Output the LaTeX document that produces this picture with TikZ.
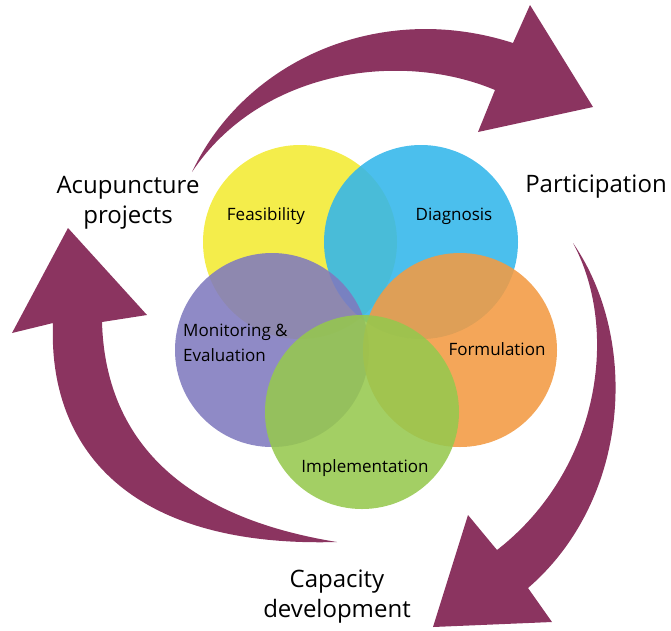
\documentclass[tikz,border=0pt]{standalone}
\usepackage{fontspec}
\setmainfont{Open Sans}

\definecolor{cycleArrow}{RGB}{139,52,96}
\definecolor{feasYellow}{RGB}{243,235,50}
\definecolor{diagBlue}{RGB}{50,182,235}
\definecolor{formOrange}{RGB}{242,154,66}
\definecolor{monPurple}{RGB}{128,122,190}
\definecolor{implGreen}{RGB}{150,200,78}

\begin{document}
\begin{tikzpicture}[x=1pt, y=-1pt,
    petal/.style={circle, minimum size=194pt, inner sep=0pt, fill opacity=0.88},
    stage/.style={inner sep=0pt, font=\fontsize{17}{25}\selectfont, text=black},
    outer/.style={inner sep=0pt, align=center, font=\fontsize{24}{30}\selectfont, text=black}]
  \useasboundingbox (0,0) rectangle (671,630);

  \node [petal, fill=feasYellow] (feas) at (300,242) {};
  \node [petal, fill=diagBlue]   (diag) at (421,242) {};
  \node [petal, fill=monPurple]  (mon)  at (272,350) {};
  \node [petal, fill=formOrange] (form) at (460,350) {};
  \node [petal, fill=implGreen]  (impl) at (362,412) {};

  \node [stage, anchor=base] (feasText) at (266,220) {Feasibility};
  \node [stage, anchor=base] (diagText) at (454,220) {Diagnosis};
  \node [stage, anchor=base] (formText) at (497,355) {Formulation};
  \node [stage, anchor=base] (implText) at (365,472) {Implementation};
  \node [stage, align=left, anchor=west] (monText) at (183,343) {Monitoring \&\\Evaluation};

  \fill [cycleArrow] (192,172) .. controls (245,60) and (380,0) .. (513,43)
    -- (530,5) -- (593,107) -- (478,132) -- (495,90)
    .. controls (400,50) and (260,70) .. cycle;
  \fill [cycleArrow] (573,243) .. controls (640,340) and (630,500) .. (528,588)
    -- (552,622) -- (433,627) -- (468,515) -- (497,550)
    .. controls (600,470) and (620,330) .. cycle;
  \fill [cycleArrow] (337,542) .. controls (125,548) and (48,445) .. (53,323)
    -- (12,333) -- (68,228) -- (147,315) -- (102,322)
    .. controls (105,430) and (170,515) .. cycle;

  \node [outer] (acu)  at (128,203) {Acupuncture\\projects};
  \node [outer, anchor=base] (part) at (596,192) {Participation};
  \node [outer] (cap)  at (337,597) {Capacity\\development};
\end{tikzpicture}
\end{document}
